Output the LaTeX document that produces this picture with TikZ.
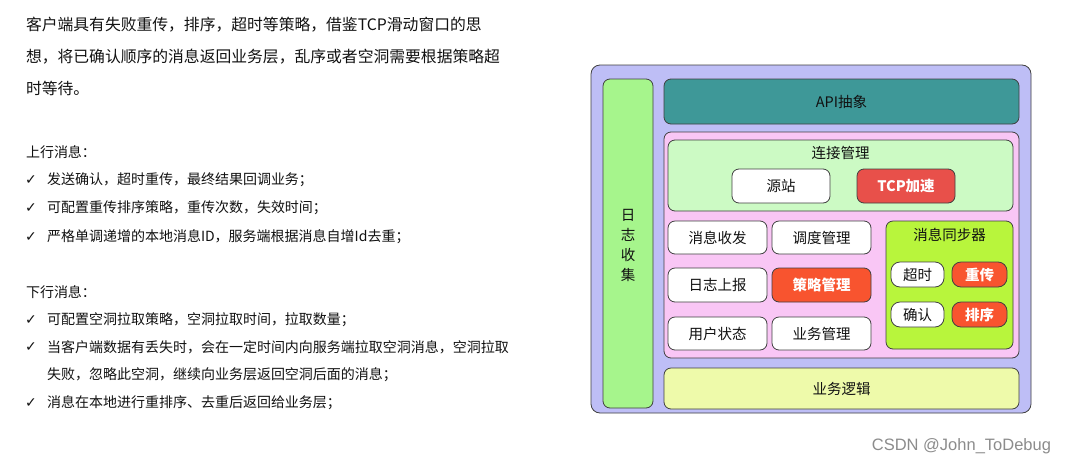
\documentclass[tikz,border=0pt]{standalone}
\usepackage{fontspec}
\setmainfont{Liberation Sans}
\newfontfamily\cjk{Noto Sans CJK SC}
\newfontfamily\symf{DejaVu Sans}
\definecolor{outerc}{HTML}{BEBEF6}
\definecolor{logc}{HTML}{A6F58C}
\definecolor{apic}{HTML}{3E9898}
\definecolor{pinkc}{HTML}{F9C6F5}
\definecolor{connc}{HTML}{CCFAC4}
\definecolor{tcpc}{HTML}{E8504A}
\definecolor{hotc}{HTML}{F8542F}
\definecolor{syncc}{HTML}{B8F53C}
\definecolor{bizc}{HTML}{EEFAAA}
\definecolor{txtc}{HTML}{111111}
\begin{document}
\begin{tikzpicture}[x=1pt,y=-1pt,
  every node/.style={inner sep=0pt, outer sep=0pt, text=txtc},
  blk/.style={draw=black!75, line width=0.8pt, rounded corners=7pt, anchor=north west,
              font=\cjk\fontsize{14.5}{17}\selectfont},
  wbox/.style={blk, fill=white},
  hbox/.style={blk, fill=hotc, text=white, font=\cjk\bfseries\fontsize{14.5}{17}\selectfont},
  ttl/.style={font=\cjk\fontsize{14.5}{17}\selectfont},
  para/.style={anchor=west, font=\cjk\fontsize{15.8}{20}\selectfont},
  item/.style={anchor=west, font=\cjk\fontsize{14}{18}\selectfont},
  chk/.style={anchor=west, font=\symf\fontsize{14}{15}\selectfont}
]
\useasboundingbox (0,0) rectangle (1066,464);
\fill[white] (0,0) rectangle (1066,464);

% ---------- left text ----------
\node[para] (p1) at (26,25) {客户端具有失败重传，排序，超时等策略，借鉴TCP滑动窗口的思};
\node[para] (p2) at (26,57) {想，将已确认顺序的消息返回业务层，乱序或者空洞需要根据策略超};
\node[para] (p3) at (26,88) {时等待。};

\node[item] (up) at (26,152) {上行消息：};
\node[chk] (c1) at (25,180) {✓}; \node[item] (u1) at (47,180) {发送确认，超时重传，最终结果回调业务；};
\node[chk] (c2) at (25,208) {✓}; \node[item] (u2) at (47,208) {可配置重传排序策略，重传次数，失效时间；};
\node[chk] (c3) at (25,237) {✓}; \node[item] (u3) at (47,237) {严格单调递增的本地消息ID，服务端根据消息自增Id去重；};

\node[item] (down) at (26,292) {下行消息：};
\node[chk] (c4) at (25,320) {✓}; \node[item] (d1) at (47,320) {可配置空洞拉取策略，空洞拉取时间，拉取数量；};
\node[chk] (c5) at (25,347) {✓}; \node[item] (d2) at (47,347) {当客户端数据有丢失时，会在一定时间内向服务端拉取空洞消息，空洞拉取};
\node[item] (d2b) at (47,375) {失败，忽略此空洞，继续向业务层返回空洞后面的消息；};
\node[chk] (c6) at (25,403) {✓}; \node[item] (d3) at (47,403) {消息在本地进行重排序、去重后返回给业务层；};

% ---------- diagram ----------
\node[blk, fill=outerc, rounded corners=9pt, minimum width=440, minimum height=348] (outer) at (591,65) {};
\node[blk, fill=logc, minimum width=50, minimum height=329] (log) at (603,79) {};
\node[ttl, align=center, font=\cjk\fontsize{14.5}{20}\selectfont] (logt) at (628,245) {日\\志\\收\\集};

\node[blk, fill=apic, minimum width=355, minimum height=45] (api) at (664,79) {API抽象};

\node[blk, fill=pinkc, minimum width=355, minimum height=226] (pink) at (664,132) {};

\node[blk, fill=connc, minimum width=345, minimum height=71] (conn) at (668,140) {};
\node[ttl] (connt) at (840.5,153) {连接管理};
\node[wbox, minimum width=98, minimum height=34] (src) at (732,169) {源站};
\node[blk, fill=tcpc, text=white, font=\cjk\bfseries\fontsize{14.5}{17}\selectfont,
      minimum width=98, minimum height=34] (tcp) at (857,169) {TCP加速};

\node[wbox, minimum width=99, minimum height=33] (recv) at (668,221) {消息收发};
\node[wbox, minimum width=99, minimum height=33] (sched) at (772,221) {调度管理};
\node[wbox, minimum width=99, minimum height=34] (logrep) at (668,268) {日志上报};
\node[hbox, minimum width=99, minimum height=34] (policy) at (772,268) {策略管理};
\node[wbox, minimum width=99, minimum height=33] (user) at (668,317) {用户状态};
\node[wbox, minimum width=99, minimum height=33] (bizm) at (772,317) {业务管理};

\node[blk, fill=syncc, minimum width=127, minimum height=128] (sync) at (886,221) {};
\node[ttl] (synct) at (949.5,235) {消息同步器};
\node[wbox, rounded corners=9pt, minimum width=53, minimum height=25] (tmo) at (891,262) {超时};
\node[hbox, rounded corners=9pt, minimum width=55, minimum height=25] (resend) at (952,262) {重传};
\node[wbox, rounded corners=9pt, minimum width=53, minimum height=25] (ack) at (891,302) {确认};
\node[hbox, rounded corners=9pt, minimum width=55, minimum height=25] (sort) at (952,302) {排序};

\node[blk, fill=bizc, minimum width=355, minimum height=41] (biz) at (664,368) {业务逻辑};

% ---------- watermark ----------
\node[anchor=east, text=black!45, font=\fontsize{16.5}{19}\selectfont] (wm) at (1051,446) {CSDN @John\_ToDebug};
\end{tikzpicture}
\end{document}
